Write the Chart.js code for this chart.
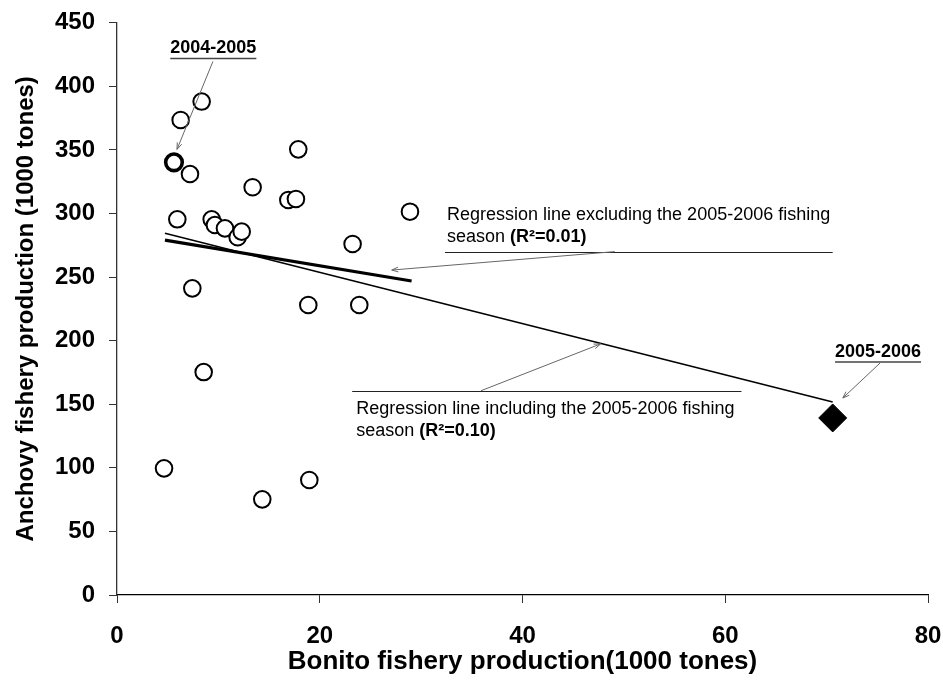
<!DOCTYPE html>
<html>
<head>
<meta charset="utf-8">
<script src="https://cdn.jsdelivr.net/npm/chart.js@4/dist/chart.umd.min.js"></script>
<style>
  html, body { margin: 0; padding: 0; background: #fff; }
  #wrap { width: 943px; height: 697px; }
</style>
</head>
<body>
<div id="wrap"><canvas id="c" width="943" height="697"></canvas></div>
<script>
// Fishing seasons: bonito vs anchovy landings (1000 tones)
const bonitoSeasons  = [4.64, 5.95, 6.28, 7.2, 7.43, 8.35, 8.55, 9.34, 9.66, 10.65, 11.9, 12.3, 13.38, 14.33, 16.9, 17.65, 17.88, 18.87, 18.97, 23.24, 23.9, 28.9];
const anchovySeasons = [99.6, 295.4, 373.5, 331, 241.1, 388, 175.3, 295.4, 290.9, 288.3, 281.3, 285.7, 320.6, 75.2, 310.6, 311.4, 350.4, 228, 90.4, 276, 228, 301.4];

// Highlighted seasons
const bonito0405  = [5.62];
const anchovy0405 = [340.2];
const bonito0506  = [70.6];
const anchovy0506 = [139.2];

// Regression line end points
const fitAllX  = [4.73, 70.6];
const fitAllY  = [284.4, 151.7];
const fitExclX = [4.73, 29.06];
const fitExclY = [279.1, 246.9];

// Axis ticks
const xTicks = [0, 20, 40, 60, 80];
const yTicks = [0, 50, 100, 150, 200, 250, 300, 350, 400, 450];

const FONT = '"Liberation Sans", Arial, Helvetica, sans-serif';
Chart.defaults.font.family = FONT;
Chart.defaults.color = '#000';

const pts = (xs, ys) => xs.map((v, i) => ({ x: v, y: ys[i] }));

// Text notes, arrows and rules drawn on top of the plot
const notesPlugin = {
  id: 'notes',
  afterDatasetsDraw(chart) {
    const { ctx, scales: { x, y } } = chart;
    const px = v => x.getPixelForValue(v);
    const py = v => y.getPixelForValue(v);

    function rich(x0, y0, parts, size) {
      ctx.textAlign = 'left';
      ctx.textBaseline = 'middle';
      let cx = x0;
      for (const p of parts) {
        ctx.font = (p.bold ? 'bold ' : '') + size + 'px ' + FONT;
        ctx.fillText(p.t, cx, y0);
        cx += ctx.measureText(p.t).width;
      }
    }
    function arrow(x1, y1, x2, y2) {
      ctx.save();
      ctx.strokeStyle = '#666';
      ctx.lineWidth = 1;
      ctx.beginPath();
      ctx.moveTo(x1, y1);
      ctx.lineTo(x2, y2);
      const a = Math.atan2(y2 - y1, x2 - x1);
      const L = 7, s = 0.35;
      ctx.moveTo(x2 - L * Math.cos(a - s), y2 - L * Math.sin(a - s));
      ctx.lineTo(x2, y2);
      ctx.lineTo(x2 - L * Math.cos(a + s), y2 - L * Math.sin(a + s));
      ctx.stroke();
      ctx.restore();
    }
    function rule(xa, xb, yv) {
      ctx.save();
      ctx.strokeStyle = '#222';
      ctx.lineWidth = 1;
      ctx.beginPath();
      ctx.moveTo(px(xa), Math.round(py(yv)) + 0.5);
      ctx.lineTo(px(xb), Math.round(py(yv)) + 0.5);
      ctx.stroke();
      ctx.restore();
    }
    function tag(text, xv, yv) {
      ctx.font = 'bold 18px ' + FONT;
      ctx.textAlign = 'center';
      ctx.textBaseline = 'middle';
      const cx = px(xv), cy = py(yv);
      ctx.fillText(text, cx, cy);
      const w = ctx.measureText(text).width;
      ctx.save();
      ctx.strokeStyle = '#444';
      ctx.lineWidth = 1.5;
      ctx.beginPath();
      ctx.moveTo(cx - w / 2, cy + 10);
      ctx.lineTo(cx + w / 2, cy + 10);
      ctx.stroke();
      ctx.restore();
    }

    ctx.save();
    ctx.fillStyle = '#000';

    // Note for the line that leaves out 2005-2006
    rich(px(32.55), py(298.8), [{ t: 'Regression line excluding the 2005-2006 fishing' }], 18);
    rich(px(32.55), py(281.5), [{ t: 'season ' }, { t: '(R\u00B2=0.01)', bold: true }], 18);
    rule(32.35, 70.6, 270);
    arrow(px(49.1), py(270), px(27.1), py(255.5));

    // Note for the line over all seasons
    rule(23.2, 61.6, 160.6);
    rich(px(23.6), py(146.3), [{ t: 'Regression line including the 2005-2006 fishing' }], 18);
    rich(px(23.6), py(129), [{ t: 'season ' }, { t: '(R\u00B2=0.10)', bold: true }], 18);
    arrow(px(35.9), py(160.6), px(47.7), py(197.4));

    // Season tags
    tag('2004-2005', 9.5, 429.8);
    arrow(px(9.46), py(419.5), px(5.92), py(350.4));
    tag('2005-2006', 75.07, 191.1);
    arrow(px(75.27), py(182.4), px(71.6), py(154.9));

    ctx.restore();
  }
};

new Chart(document.getElementById('c'), {
  type: 'scatter',
  data: {
    datasets: [
      {
        type: 'line',
        data: pts(fitAllX, fitAllY),
        borderColor: '#000',
        borderWidth: 1.6,
        pointRadius: 0,
        fill: false,
        order: 5
      },
      {
        type: 'line',
        data: pts(fitExclX, fitExclY),
        borderColor: '#000',
        borderWidth: 3.2,
        pointRadius: 0,
        fill: false,
        order: 4
      },
      {
        data: pts(bonitoSeasons, anchovySeasons),
        pointStyle: 'circle',
        pointRadius: 8.3,
        pointBorderWidth: 2,
        pointBackgroundColor: '#fff',
        pointBorderColor: '#000',
        order: 3
      },
      {
        data: pts(bonito0405, anchovy0405),
        pointStyle: 'circle',
        pointRadius: 8.3,
        pointBorderWidth: 3.6,
        pointBackgroundColor: '#fff',
        pointBorderColor: '#000',
        order: 2
      },
      {
        data: pts(bonito0506, anchovy0506),
        pointStyle: 'rectRot',
        pointRadius: 14,
        pointBorderWidth: 1,
        pointBackgroundColor: '#000',
        pointBorderColor: '#000',
        order: 1
      }
    ]
  },
  options: {
    responsive: false,
    animation: false,
    events: [],
    layout: { padding: { top: 22.7, right: 15, left: 0, bottom: 0 } },
    plugins: { legend: { display: false }, tooltip: { enabled: false } },
    scales: {
      x: {
        type: 'linear',
        min: 0, max: 80,
        afterBuildTicks: s => { s.ticks = xTicks.map(v => ({ value: v })); },
        afterFit: s => { s.height = 102; s.paddingLeft = 0; s.paddingRight = 0; },
        grid: { drawOnChartArea: false, drawTicks: true, tickLength: 8, color: '#333', tickWidth: 1 },
        border: { color: '#000', width: 1.3 },
        ticks: { font: { size: 24, weight: 'bold' }, padding: 19, color: '#000', maxRotation: 0 },
        title: {
          display: true,
          text: 'Bonito fishery production(1000 tones)',
          font: { size: 26, weight: 'bold' },
          color: '#000',
          padding: { top: 0, bottom: 20 }
        }
      },
      y: {
        type: 'linear',
        min: 0, max: 450,
        afterBuildTicks: s => { s.ticks = yTicks.map(v => ({ value: v })); },
        afterFit: s => { s.width = 117; s.paddingTop = 0; s.paddingBottom = 0; },
        grid: { drawOnChartArea: false, drawTicks: true, tickLength: 8, color: '#333', tickWidth: 1 },
        border: { color: '#333', width: 1.3 },
        ticks: { font: { size: 24, weight: 'bold' }, padding: 14, color: '#000' },
        title: {
          display: true,
          text: 'Anchovy fishery production (1000 tones)',
          font: { size: 24, weight: 'bold' },
          color: '#000',
          padding: { top: 12, bottom: 0 }
        }
      }
    }
  },
  plugins: [notesPlugin]
});
</script>
</body>
</html>
